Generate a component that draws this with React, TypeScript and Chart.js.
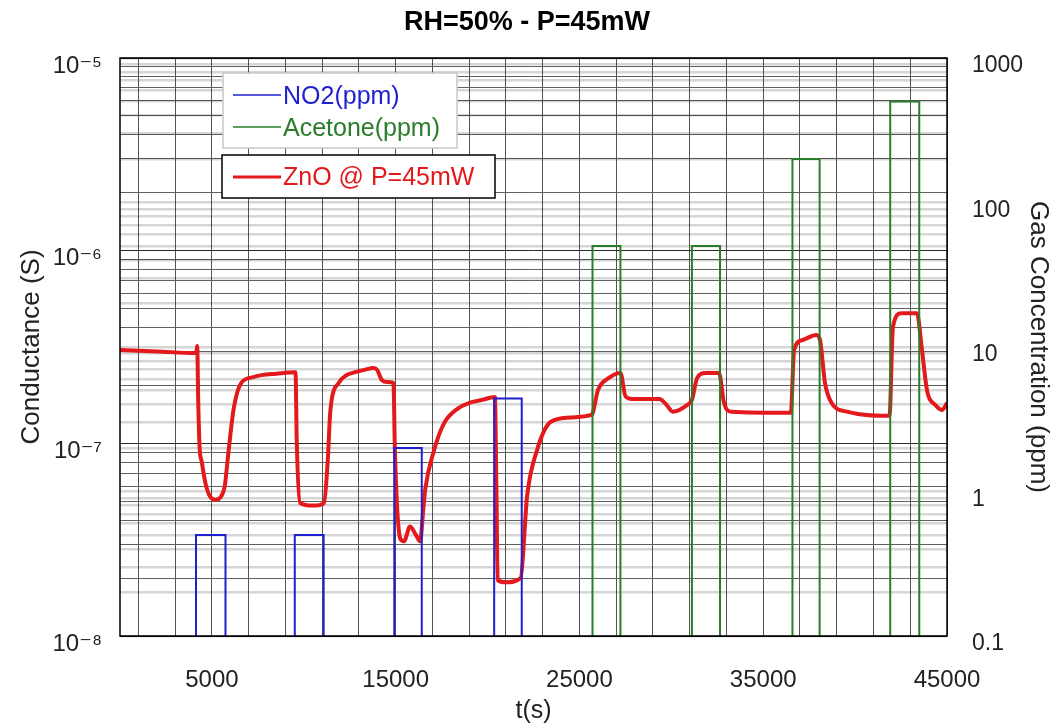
import React, { useEffect, useRef } from 'react';
import { Chart, registerables } from 'chart.js';

Chart.register(...registerables);

// ---------------- data ----------------
const chartTitle = 'RH=50% - P=45mW';
const xTitle = 't(s)';
const leftTitle = 'Conductance (S)';
const rightTitle = 'Gas Concentration (ppm)';

const xGridTicks = [1000, 3000, 5000, 7000, 9000, 11000, 13000, 15000, 17000, 19000, 21000, 23000,
  25000, 27000, 29000, 31000, 33000, 35000, 37000, 39000, 41000, 43000, 45000];
const xLabelTicks = [5000, 15000, 25000, 35000, 45000];

const logMantissas = [1, 2, 3, 4, 5, 6, 7, 8, 9];
const leftDecades = [-8, -7, -6];
const leftTopDecade = -5;
const rightDecades = [-1, 0, 1, 2];
const rightTopDecade = 3;
const rightLabels = ['0.1', '1', '10', '100', '1000'];

const znoTime = [0, 2000, 4150, 4200, 4260, 4330, 4450, 4650, 4900, 5200, 5500, 5700, 5900, 6200, 6600,
  7200, 7700, 8500, 9550, 9620, 9800, 10500, 11100, 11300, 11450, 11900, 12300, 12800, 13400, 13800,
  14000, 14250, 14550, 14880, 14960, 15250, 15450, 15780, 16100, 16330, 16500, 16600, 17090, 17630,
  18400, 19000, 19700, 20400, 20480, 20550, 21000, 21800, 22150, 22690, 23430, 24500, 25600, 25700,
  26010, 26580, 27230, 27510, 27860, 29360, 29700, 30090, 30850, 31120, 31400, 31870, 32590, 32870,
  33250, 36500, 36680, 37150, 37890, 38090, 38360, 38720, 39560, 41870, 42060, 42520, 43360, 43640,
  43910, 44370, 44730, 45000];
const znoConductance = [3.05e-7, 3.0e-7, 2.94e-7, 3.2e-7, 1.6e-7, 9.6e-8, 8.0e-8, 6.2e-8, 5.3e-8, 5.1e-8,
  5.3e-8, 6.0e-8, 9.0e-8, 1.54e-7, 2.06e-7, 2.2e-7, 2.26e-7, 2.3e-7, 2.34e-7, 1.0e-7, 4.9e-8, 4.75e-8,
  4.9e-8, 8.0e-8, 1.49e-7, 2.06e-7, 2.25e-7, 2.34e-7, 2.42e-7, 2.46e-7, 2.4e-7, 2.13e-7, 2.08e-7,
  2.06e-7, 9.0e-8, 3.2e-8, 3.1e-8, 3.7e-8, 3.35e-8, 3.1e-8, 4.5e-8, 5.7e-8, 9.2e-8, 1.27e-7, 1.52e-7,
  1.62e-7, 1.68e-7, 1.74e-7, 6.0e-8, 1.95e-8, 1.9e-8, 2.0e-8, 5.3e-8, 9.2e-8, 1.29e-7, 1.36e-7,
  1.40e-7, 1.42e-7, 1.89e-7, 2.18e-7, 2.32e-7, 1.75e-7, 1.70e-7, 1.70e-7, 1.60e-7, 1.46e-7, 1.58e-7,
  1.68e-7, 2.18e-7, 2.32e-7, 2.32e-7, 1.62e-7, 1.46e-7, 1.44e-7, 3.05e-7, 3.44e-7, 3.65e-7, 3.44e-7,
  2.06e-7, 1.62e-7, 1.46e-7, 1.39e-7, 4.03e-7, 4.74e-7, 4.74e-7, 3.05e-7, 1.89e-7, 1.58e-7, 1.49e-7,
  1.62e-7];

const no2Start = [4135, 9510, 14925, 20360];
const no2End = [5740, 11080, 16420, 21860];
const no2Level = [0.5, 0.5, 2, 4.4];

const acetoneStart = [25710, 31120, 36590, 41910];
const acetoneEnd = [27230, 32650, 38070, 43490];
const acetoneLevel = [50, 50, 200, 500];

const pulseBase = 0.01; // below the visible axis minimum (0.1)

// ---------------- helpers ----------------
const FONT = '"Liberation Sans", Arial, Helvetica, "DejaVu Sans", sans-serif';
const SUP: Record<string, string> = { '-': '\u207B', '0': '\u2070', '1': '\u00B9', '2': '\u00B2', '3': '\u00B3',
  '4': '\u2074', '5': '\u2075', '6': '\u2076', '7': '\u2077', '8': '\u2078', '9': '\u2079' };
const sup = (s: string) => s.split('').map((c) => SUP[c] || c).join('');
const isDecade = (v: number) => {
  if (!(v > 0)) return false;
  const l = Math.log10(v);
  return Math.abs(l - Math.round(l)) < 1e-6;
};
const logTicks = (decades: number[], top: number) => {
  const out: number[] = [];
  decades.forEach((d) => logMantissas.forEach((m) => out.push(m * Math.pow(10, d))));
  out.push(Math.pow(10, top));
  return out;
};
const pulses = (s: number[], e: number[], lv: number[]) => {
  const pts: { x: number; y: number }[] = [];
  s.forEach((st, i) => {
    pts.push({ x: st, y: pulseBase }, { x: st, y: lv[i] }, { x: e[i], y: lv[i] }, { x: e[i], y: pulseBase });
  });
  return pts;
};

const legendPlugin = {
  id: 'customLegend',
  afterDraw(chart: any) {
    const ctx = chart.ctx;
    ctx.save();
    // frame
    const a = chart.chartArea;
    ctx.strokeStyle = '#000';
    ctx.lineWidth = 1.5;
    ctx.strokeRect(a.left, a.top, a.right - a.left, a.bottom - a.top);

    ctx.font = `25px ${FONT}`;
    ctx.textBaseline = 'middle';
    ctx.textAlign = 'left';
    // box 1
    ctx.fillStyle = '#fff';
    ctx.fillRect(223, 73, 234, 75);
    ctx.strokeStyle = '#c8c8c8';
    ctx.lineWidth = 1.5;
    ctx.strokeRect(223, 73, 234, 75);
    const entries1 = [
      { t: 'NO2(ppm)', c: '#1f1fd0', y: 95 },
      { t: 'Acetone(ppm)', c: '#2a7d2a', y: 127 },
    ];
    entries1.forEach((e) => {
      ctx.strokeStyle = e.c;
      ctx.lineWidth = 1.5;
      ctx.beginPath();
      ctx.moveTo(233, e.y);
      ctx.lineTo(281, e.y);
      ctx.stroke();
      ctx.fillStyle = e.c;
      ctx.fillText(e.t, 283, e.y + 2);
    });
    // box 2
    ctx.fillStyle = '#fff';
    ctx.fillRect(222, 155, 273, 43);
    ctx.strokeStyle = '#000';
    ctx.lineWidth = 1.5;
    ctx.strokeRect(222, 155, 273, 43);
    ctx.strokeStyle = '#e3191c';
    ctx.lineWidth = 3;
    ctx.beginPath();
    ctx.moveTo(233, 177);
    ctx.lineTo(281, 177);
    ctx.stroke();
    ctx.fillStyle = '#e3191c';
    ctx.fillText('ZnO @ P=45mW', 283, 178);
    ctx.restore();
  },
};

export default function App() {
  const ref = useRef<HTMLCanvasElement>(null);
  useEffect(() => {
    if (!ref.current) return;
    Chart.defaults.font.family = FONT;
    const znoPoints = znoTime.map((t, i) => ({ x: t, y: znoConductance[i] }));
    const chart = new Chart(ref.current, {
      type: 'line',
      data: {
        datasets: [
          {
            label: 'NO2(ppm)',
            data: pulses(no2Start, no2End, no2Level),
            yAxisID: 'y2',
            borderColor: '#1f1fd0',
            borderWidth: 2,
            pointRadius: 0,
            tension: 0,
            fill: false,
          },
          {
            label: 'Acetone(ppm)',
            data: pulses(acetoneStart, acetoneEnd, acetoneLevel),
            yAxisID: 'y2',
            borderColor: '#2a7d2a',
            borderWidth: 2,
            pointRadius: 0,
            tension: 0,
            fill: false,
          },
          {
            label: 'ZnO @ P=45mW',
            data: znoPoints,
            yAxisID: 'y',
            borderColor: '#e3191c',
            borderWidth: 4,
            pointRadius: 0,
            cubicInterpolationMode: 'monotone',
            fill: false,
          },
        ],
      },
      options: {
        responsive: false,
        animation: false,
        layout: { padding: 0 },
        plugins: {
          legend: { display: false },
          tooltip: { enabled: false },
          title: {
            display: true,
            text: chartTitle,
            color: '#000',
            font: { size: 27, weight: 'bold', family: FONT },
            padding: { top: 6, bottom: 19.6 },
          },
        },
        scales: {
          x: {
            type: 'linear',
            min: 0,
            max: 45000,
            afterBuildTicks: (s: any) => {
              s.ticks = xGridTicks.map((v) => ({ value: v }));
            },
            afterFit: (s: any) => {
              s.height = 90;
            },
            ticks: {
              autoSkip: false,
              maxRotation: 0,
              padding: 30,
              color: '#222',
              font: { size: 24 },
              callback: (v: any) => (xLabelTicks.includes(Number(v)) ? String(v) : ''),
            },
            grid: { color: '#555', lineWidth: 1, drawTicks: false },
            border: { display: false },
            title: {
              display: true,
              text: xTitle,
              color: '#222',
              font: { size: 25 },
              padding: { top: 0, bottom: 0 },
            },
          },
          y: {
            type: 'logarithmic',
            position: 'left',
            min: 1e-8,
            max: 1e-5,
            afterBuildTicks: (s: any) => {
              s.ticks = logTicks(leftDecades, leftTopDecade).map((v) => ({ value: v }));
            },
            afterFit: (s: any) => {
              s.width = 120;
            },
            ticks: {
              autoSkip: false,
              padding: 18,
              labelOffset: 8,
              color: '#222',
              font: { size: 24 },
              callback: (v: any) => (isDecade(Number(v)) ? '10' + sup(String(Math.round(Math.log10(Number(v))))) : ''),
            },
            grid: {
              color: (c: any) => (c.tick && isDecade(c.tick.value) ? '#2a2a2a' : '#606060'),
              lineWidth: 1,
              drawTicks: false,
            },
            border: { display: false },
            title: {
              display: true,
              text: leftTitle,
              color: '#222',
              font: { size: 26 },
              padding: { top: 16, bottom: 0 },
            },
          },
          y2: {
            type: 'logarithmic',
            position: 'right',
            min: 0.1,
            max: 1000,
            afterBuildTicks: (s: any) => {
              s.ticks = logTicks(rightDecades, rightTopDecade).map((v) => ({ value: v }));
            },
            afterFit: (s: any) => {
              s.width = 107;
            },
            ticks: {
              autoSkip: false,
              padding: 25,
              labelOffset: 8,
              color: '#222',
              font: { size: 23 },
              callback: (v: any) => {
                if (!isDecade(Number(v))) return '';
                const i = Math.round(Math.log10(Number(v))) + 1;
                return rightLabels[i];
              },
            },
            grid: {
              color: 'rgba(0,0,0,0.16)',
              lineWidth: 2.5,
              drawTicks: false,
            },
            border: { display: false },
            title: {
              display: true,
              text: rightTitle,
              color: '#222',
              font: { size: 26 },
              padding: { top: 0, bottom: 0 },
            },
          },
        },
      } as any,
      plugins: [legendPlugin],
    });
    return () => chart.destroy();
  }, []);
  return (
    <div style={{ position: 'fixed', left: 0, top: 0, width: 1054, height: 726, background: '#fff' }}>
      <canvas ref={ref} width={1054} height={726} style={{ display: 'block' }} />
    </div>
  );
}
